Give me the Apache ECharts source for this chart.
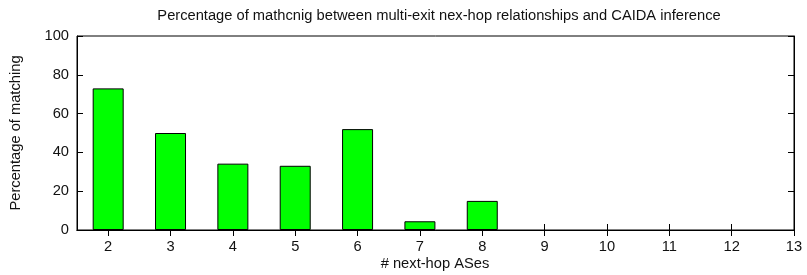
<!DOCTYPE html>
<html>
<head>
<meta charset="utf-8">
<script src="https://cdn.jsdelivr.net/npm/echarts@6/dist/echarts.min.js"></script>
<style>
	html, body { margin: 0; padding: 0; background: #fff; }
	#chart { width: 807px; height: 275px; }
</style>
</head>
<body>
<div id="chart"></div>
<script>
// next-hop AS counts and matching percentage
const hops = [2, 3, 4, 5, 6, 7, 8];
const matching = [73, 50, 34.2, 33.1, 52, 4.5, 15];
const xTicks = [2, 3, 4, 5, 6, 7, 8, 9, 10, 11, 12, 13];

let chart = echarts.init(document.getElementById("chart"));
let font = "Liberation Sans, Arial, sans-serif";
let txt = { fontFamily: font, fontSize: 14.7, color: "#111", fontWeight: "normal" };

chart.setOption({
	animation: false,
	title: [
		{
			text: "Percentage of mathcnig between multi-exit nex-hop relationships and CAIDA inference",
			left: 434,
			top: 3,
			textAlign: "center",
			textStyle: txt,
		},
		{
			text: "# next-hop ASes",
			left: 435,
			top: 256,
			textAlign: "center",
			padding: 0,
			textStyle: txt,
		},
	],
	graphic: [
		{
			type: "text",
			x: 16,
			y: 133,
			rotation: Math.PI / 2,
			style: {
				text: "Percentage of matching",
				align: "center",
				verticalAlign: "middle",
				font: "14.7px Liberation Sans, Arial, sans-serif",
				fill: "#111",
			},
		},
	],
	grid: {
		left: 77,
		right: 13,
		top: 36,
		bottom: 45,
		outerBoundsMode: "none",
		show: true,
		borderColor: "#000",
		borderWidth: 1,
	},
	xAxis: [
		{
			type: "value",
			min: 1.5,
			max: 13,
			axisLine: { show: true, lineStyle: { color: "black" } },
			axisTick: { show: true, inside: true, length: 6, customValues: xTicks, lineStyle: { color: "black" } },
			axisLabel: Object.assign({ customValues: xTicks, margin: 9 }, txt),
			splitLine: { show: false },
		},
		{
			type: "value",
			position: "top",
			min: 1.5,
			max: 13,
			axisLine: { show: true, lineStyle: { color: "black" } },
			axisTick: { show: true, inside: true, length: 6, customValues: xTicks, lineStyle: { color: "black" } },
			axisLabel: { show: false },
			splitLine: { show: false },
		},
	],
	yAxis: [
		{
			type: "value",
			min: 0,
			max: 100,
			interval: 20,
			axisLine: { show: true, lineStyle: { color: "black" } },
			axisTick: { show: true, inside: true, length: 6, lineStyle: { color: "black" } },
			axisLabel: Object.assign({ margin: 8 }, txt),
			splitLine: { show: false },
		},
		{
			type: "value",
			position: "right",
			min: 0,
			max: 100,
			interval: 20,
			axisLine: { show: true, lineStyle: { color: "black" } },
			axisTick: { show: true, inside: true, length: 6, lineStyle: { color: "black" } },
			axisLabel: { show: false },
			splitLine: { show: false },
		},
	],
	series: [
		{
			type: "bar",
			xAxisIndex: 0,
			yAxisIndex: 0,
			data: hops.map((h, i) => [h, matching[i]]),
			barWidth: 31,
			itemStyle: { color: "#00ff00", borderColor: "#000", borderWidth: 1 },
		},
	],
});
</script>
</body>
</html>
